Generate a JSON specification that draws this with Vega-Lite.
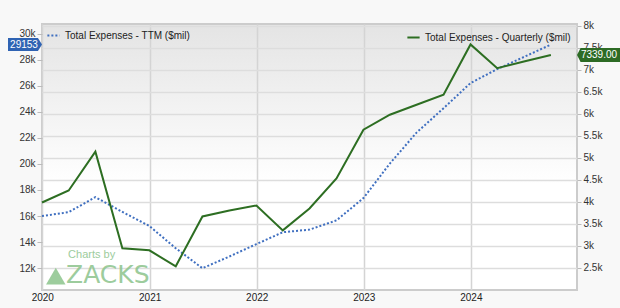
{
  "$schema": "https://vega.github.io/schema/vega-lite/v6.json",
  "width": 535,
  "height": 266,
  "autosize": "none",
  "padding": {"left": 42, "top": 24, "right": 43, "bottom": 18},
  "background": "#f8f8f8",
  "config": {
    "font": "Liberation Sans",
    "view": {
      "stroke": "#cccccc",
      "strokeWidth": 2,
      "fill": {"gradient": "linear", "x1": 0, "y1": 0, "x2": 0, "y2": 1, "stops": [{"offset": 0, "color": "#e4e4e4"}, {"offset": 0.6, "color": "#ffffff"}, {"offset": 1, "color": "#ffffff"}]}
    },
    "axis": {"labelFont": "Liberation Sans", "labelFontSize": 10, "labelColor": "#333333", "domain": false, "tickColor": "#bbbbbb", "labelOverlap": false, "labelFlush": false, "labelBound": false},
    "legend": {"labelFont": "Liberation Sans", "labelFontSize": 10, "labelColor": "#222222", "padding": 0, "offset": 4}
  },
  "datasets": {
    "q": [
      {"date": "2019-12-31", "ttm": 16000, "quarterly": 3989},
      {"date": "2020-03-31", "ttm": 16300, "quarterly": 4261},
      {"date": "2020-06-30", "ttm": 17450, "quarterly": 5145},
      {"date": "2020-09-30", "ttm": 16320, "quarterly": 2947},
      {"date": "2020-12-31", "ttm": 15240, "quarterly": 2901},
      {"date": "2021-03-31", "ttm": 13530, "quarterly": 2539},
      {"date": "2021-06-30", "ttm": 12000, "quarterly": 3672},
      {"date": "2021-09-30", "ttm": 12900, "quarterly": 3808},
      {"date": "2021-12-31", "ttm": 13850, "quarterly": 3921},
      {"date": "2022-03-31", "ttm": 14760, "quarterly": 3355},
      {"date": "2022-06-30", "ttm": 14960, "quarterly": 3853},
      {"date": "2022-09-30", "ttm": 15670, "quarterly": 4533},
      {"date": "2022-12-31", "ttm": 17380, "quarterly": 5643},
      {"date": "2023-03-31", "ttm": 20030, "quarterly": 5983},
      {"date": "2023-06-30", "ttm": 22400, "quarterly": 6210},
      {"date": "2023-09-30", "ttm": 24270, "quarterly": 6436},
      {"date": "2023-12-31", "ttm": 26200, "quarterly": 7580},
      {"date": "2024-03-31", "ttm": 27270, "quarterly": 7040},
      {"date": "2024-06-30", "ttm": 28200, "quarterly": 7194},
      {"date": "2024-09-30", "ttm": 29153, "quarterly": 7339}
    ]
  },
  "layer": [
    {
      "layer": [
        {
          "data": {"name": "q"},
          "mark": {"type": "line", "strokeWidth": 2, "strokeDash": [2, 2]},
          "encoding": {
            "x": {"field": "date", "type": "temporal",
              "scale": {"domain": [{"year": 2019, "month": 12, "date": 31}, {"year": 2024, "month": 12, "date": 28}]},
              "axis": {"title": null, "format": "%Y", "tickCount": {"interval": "year", "step": 1}, "grid": true, "gridColor": "#d4d4d4", "gridWidth": 1.5, "tickSize": 0, "labelPadding": 2, "labelFontSize": 10, "labelColor": "#222222"}},
            "y": {"field": "ttm", "type": "quantitative",
              "scale": {"domain": [10330, 30730], "nice": false, "zero": false},
              "axis": {"title": null, "orient": "left", "grid": false, "tickCount": 30, "values": [12000, 14000, 16000, 18000, 20000, 22000, 24000, 26000, 28000, 30000], "labelExpr": "datum.value/1000 + 'k'", "tickSize": 5, "labelPadding": 2, "labelOverlap": false}},
            "color": {"datum": "Total Expenses - TTM ($mil)", "type": "nominal",
              "scale": {"range": ["#3f6fc0"]},
              "legend": {"title": null, "orient": "top-left", "symbolType": "stroke", "symbolDash": [2, 2], "symbolStrokeWidth": 2, "symbolSize": 150, "offset": 4}}
          }
        },
        {
          "data": {"values": [{"date": "2020-02-16", "v": 11390}]},
          "mark": {"type": "point", "shape": "triangle-up", "filled": true, "color": "#8cc48c", "opacity": 0.85, "size": 380},
          "encoding": {
            "x": {"field": "date", "type": "temporal"},
            "y": {"field": "v", "type": "quantitative"}
          }
        },
        {
          "data": {"values": [{"date": "2020-03-29", "v": 13000, "t": "Charts by"}]},
          "mark": {"type": "text", "align": "left", "baseline": "middle", "color": "#8cc48c", "opacity": 0.85, "fontSize": 11},
          "encoding": {
            "x": {"field": "date", "type": "temporal"},
            "y": {"field": "v", "type": "quantitative"},
            "text": {"field": "t"}
          }
        },
        {
          "data": {"values": [{"date": "2020-03-22", "v": 11450, "t": "ZACKS"}]},
          "mark": {"type": "text", "align": "left", "baseline": "middle", "color": "#8cc48c", "opacity": 0.85, "fontSize": 25, "font": "DejaVu Sans"},
          "encoding": {
            "x": {"field": "date", "type": "temporal"},
            "y": {"field": "v", "type": "quantitative"},
            "text": {"field": "t"}
          }
        },
        {
          "data": {"values": [{"date": "2019-12-31", "v": 29153, "lab": "29153"}]},
          "mark": {"type": "point", "filled": true, "opacity": 1, "color": "#2f63b3", "shape": "M-1,-0.38L0.76,-0.38L1,0L0.76,0.38L-1,0.38Z", "size": 1156, "xOffset": -17, "strokeWidth": 0},
          "encoding": {
            "x": {"field": "date", "type": "temporal"},
            "y": {"field": "v", "type": "quantitative"}
          }
        },
        {
          "data": {"values": [{"date": "2019-12-31", "v": 29153, "lab": "29153"}]},
          "mark": {"type": "text", "color": "#ffffff", "fontSize": 10, "dx": -18, "align": "center", "baseline": "middle"},
          "encoding": {
            "x": {"field": "date", "type": "temporal"},
            "y": {"field": "v", "type": "quantitative"},
            "text": {"field": "lab"}
          }
        }
      ]
    },
    {
      "layer": [
        {
          "data": {"name": "q"},
          "mark": {"type": "line", "strokeWidth": 2},
          "encoding": {
            "x": {"field": "date", "type": "temporal"},
            "y": {"field": "quarterly", "type": "quantitative",
              "scale": {"domain": [2000, 8045], "nice": false, "zero": false},
              "axis": {"title": null, "orient": "right", "grid": true, "gridColor": "#dddddd", "gridWidth": 1.5, "tickCount": 30, "values": [2500, 3000, 3500, 4000, 4500, 5000, 5500, 6000, 6500, 7000, 7500, 8000], "labelExpr": "datum.value/1000 + 'k'", "tickSize": 4, "labelPadding": 2, "labelOverlap": false}},
            "color": {"datum": "Total Expenses - Quarterly ($mil)", "type": "nominal",
              "scale": {"range": ["#2d6e22"]},
              "legend": {"title": null, "orient": "top-right", "symbolType": "stroke", "symbolStrokeWidth": 2, "symbolSize": 150, "offset": 6}}
          }
        },
        {
          "data": {"values": [{"date": "2024-12-28", "v": 7339, "lab": "7339.00"}]},
          "mark": {"type": "point", "filled": true, "opacity": 1, "color": "#2d6b25", "shape": "M1,-0.31L-0.84,-0.31L-1,0L-0.84,0.31L1,0.31Z", "size": 2025, "xOffset": 22.5, "strokeWidth": 0},
          "encoding": {
            "x": {"field": "date", "type": "temporal"},
            "y": {"field": "v", "type": "quantitative"}
          }
        },
        {
          "data": {"values": [{"date": "2024-12-28", "v": 7339, "lab": "7339.00"}]},
          "mark": {"type": "text", "color": "#ffffff", "fontSize": 10, "dx": 22, "align": "center", "baseline": "middle"},
          "encoding": {
            "x": {"field": "date", "type": "temporal"},
            "y": {"field": "v", "type": "quantitative"},
            "text": {"field": "lab"}
          }
        }
      ]
    }
  ],
  "resolve": {"scale": {"y": "independent", "color": "independent"}}
}
